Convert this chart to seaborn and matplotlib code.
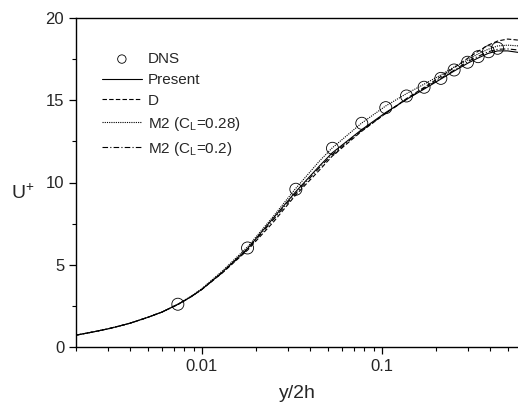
import numpy as np
import pandas as pd
import matplotlib
matplotlib.use("Agg")
import matplotlib.pyplot as plt
import seaborn as sns
from matplotlib.ticker import FixedLocator, LogLocator, NullFormatter, MultipleLocator

# DNS points
dns_x = [0.00736, 0.01795, 0.0333, 0.0532, 0.0774, 0.1052, 0.1371, 0.1717,
         0.2128, 0.2522, 0.2993, 0.3428, 0.3914, 0.4394]
dns_u = [2.60, 6.02, 9.59, 12.08, 13.60, 14.55, 15.26, 15.79,
         16.33, 16.84, 17.31, 17.65, 17.95, 18.16]

# model curves
curve_x = [0.002, 0.0025, 0.003, 0.0035, 0.004, 0.005, 0.006, 0.0074, 0.0087,
           0.01, 0.013, 0.018, 0.025, 0.033, 0.045, 0.053, 0.077, 0.105, 0.137,
           0.17, 0.21, 0.25, 0.30, 0.34, 0.39, 0.44, 0.50, 0.58]
present = [0.72, 0.92, 1.10, 1.28, 1.45, 1.80, 2.12, 2.60, 3.05,
           3.50, 4.55, 6.00, 7.85, 9.40, 11.00, 11.80, 13.20, 14.25, 15.05,
           15.65, 16.25, 16.75, 17.25, 17.55, 17.85, 18.00, 18.00, 17.90]
model_d = [0.72, 0.92, 1.10, 1.28, 1.45, 1.80, 2.12, 2.60, 3.05,
           3.50, 4.50, 5.90, 7.60, 9.20, 10.75, 11.60, 13.10, 14.20, 15.10,
           15.75, 16.40, 16.95, 17.55, 17.95, 18.35, 18.60, 18.72, 18.65]
m2_028 = [0.72, 0.92, 1.10, 1.28, 1.45, 1.80, 2.13, 2.62, 3.08,
          3.55, 4.62, 6.10, 7.95, 9.60, 11.30, 12.10, 13.60, 14.65, 15.40,
          15.95, 16.50, 17.00, 17.45, 17.80, 18.10, 18.30, 18.35, 18.30]
m2_02 = [0.72, 0.92, 1.10, 1.28, 1.45, 1.80, 2.12, 2.60, 3.05,
         3.50, 4.52, 5.95, 7.75, 9.30, 10.90, 11.70, 13.15, 14.20, 15.05,
         15.70, 16.30, 16.80, 17.35, 17.65, 17.95, 18.10, 18.12, 18.05]

df = pd.DataFrame({"x": curve_x, "Present": present, "D": model_d,
                   "M2_028": m2_028, "M2_02": m2_02})
dns = pd.DataFrame({"x": dns_x, "u": dns_u})

sns.set_style("ticks")
plt.rcParams["font.family"] = ["Liberation Sans", "DejaVu Sans"]
plt.rcParams["mathtext.fontset"] = "custom"
plt.rcParams["mathtext.rm"] = "Liberation Sans"

fig = plt.figure(figsize=(5.18, 4.03), dpi=100)
ax = fig.add_axes([76 / 518, 1 - 347 / 403, 1 - 76 / 518, (347 - 18) / 403])

lw = 0.8
sns.lineplot(data=df, x="x", y="Present", ax=ax, color="k", lw=lw,
             linestyle="-", label="Present")
sns.lineplot(data=df, x="x", y="D", ax=ax, color="k", lw=lw,
             linestyle=(0, (4, 2)), label="D")
sns.lineplot(data=df, x="x", y="M2_028", ax=ax, color="k", lw=lw,
             linestyle=(0, (1, 1)), label=r"M2 (C$_\mathregular{L}$=0.28)")
sns.lineplot(data=df, x="x", y="M2_02", ax=ax, color="k", lw=lw,
             linestyle=(0, (5, 2, 1, 2)), label=r"M2 (C$_\mathregular{L}$=0.2)")
sns.scatterplot(data=dns, x="x", y="u", ax=ax, marker="o", s=75,
                facecolor="none", edgecolor="k", linewidth=0.6, label="DNS",
                zorder=5)

ax.set_xscale("log")
ax.set_xlim(0.002, 0.002 * 10 ** (442 / 180))
ax.set_ylim(0, 20)

ax.xaxis.set_major_locator(FixedLocator([0.01, 0.1]))
ax.set_xticklabels(["0.01", "0.1"])
ax.xaxis.set_minor_locator(LogLocator(base=10, subs=np.arange(2, 10)))
ax.xaxis.set_minor_formatter(NullFormatter())
ax.yaxis.set_major_locator(MultipleLocator(5))
ax.yaxis.set_minor_locator(MultipleLocator(2.5))

ax.tick_params(which="major", direction="out", length=5, width=0.9,
               labelsize=12, color="k")
ax.tick_params(which="minor", direction="out", length=3, width=0.8, color="k")
ax.tick_params(top=False, right=False, which="both")

for s in ["left", "bottom", "top"]:
    ax.spines[s].set_linewidth(1.0)
    ax.spines[s].set_color("k")
ax.spines["right"].set_visible(False)

ax.set_xlabel("y/2h", fontsize=14, labelpad=8)
ax.set_ylabel(r"U$^\mathregular{+}$", fontsize=14, rotation=0)
ax.yaxis.set_label_coords(-0.12, 0.44)

handles, labels = ax.get_legend_handles_labels()
order = [4, 0, 1, 2, 3]
leg = ax.legend([handles[i] for i in order], [labels[i] for i in order],
                loc="upper left", bbox_to_anchor=(0.045, 0.915), frameon=False,
                fontsize=11, handlelength=2.6, handletextpad=0.4,
                labelspacing=0.45, borderaxespad=0, markerscale=0.7)

fig.savefig("out.png", dpi=100)
